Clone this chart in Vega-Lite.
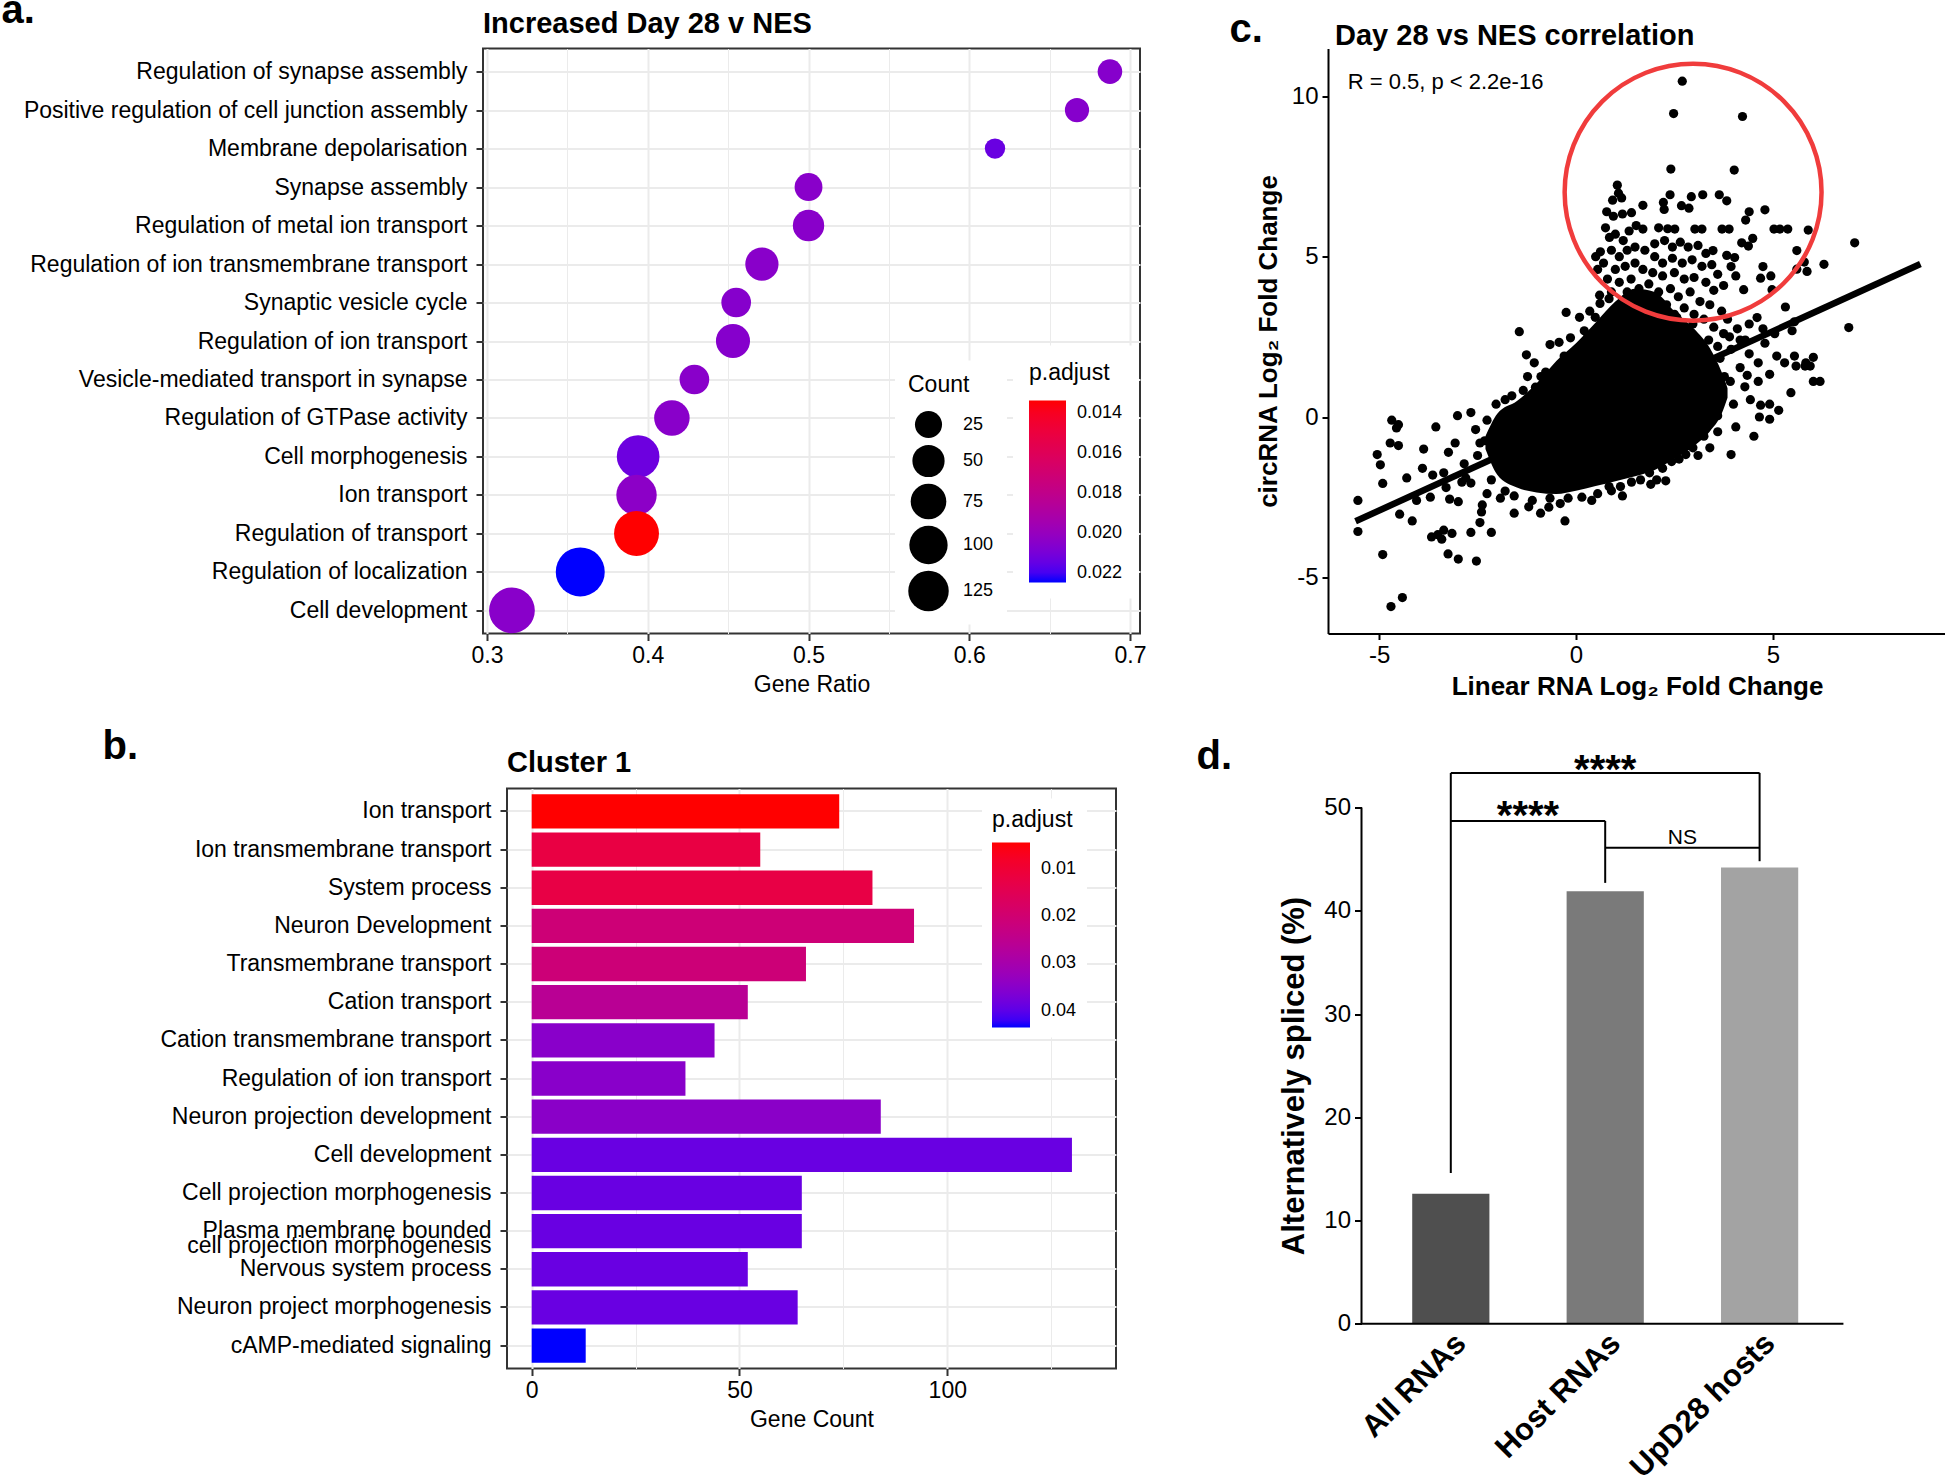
{
  "$schema": "https://vega.github.io/schema/vega-lite/v6.json",
  "padding": {"left": 0, "top": -10.5, "right": 0, "bottom": 0},
  "background": "white",
  "config": {
    "font": "Liberation Sans",
    "view": {"stroke": null},
    "axis": {"labelColor": "black", "titleColor": "black"},
    "legend": {"labelColor": "black", "titleColor": "black"},
    "title": {"color": "black"}
  },
  "datasets": {
    "go_a": [
      {"term": "Regulation of synapse assembly", "GeneRatio": 0.6875, "Count": 17, "padj": 0.0206},
      {"term": "Positive regulation of cell junction assembly", "GeneRatio": 0.667, "Count": 16, "padj": 0.0206},
      {"term": "Membrane depolarisation", "GeneRatio": 0.616, "Count": 8, "padj": 0.0214},
      {"term": "Synapse assembly", "GeneRatio": 0.5, "Count": 28, "padj": 0.0205},
      {"term": "Regulation of metal ion transport", "GeneRatio": 0.5, "Count": 45, "padj": 0.0205},
      {"term": "Regulation of ion transmembrane transport", "GeneRatio": 0.471, "Count": 57, "padj": 0.0205},
      {"term": "Synaptic vesicle cycle", "GeneRatio": 0.455, "Count": 36, "padj": 0.0206},
      {"term": "Regulation of ion transport", "GeneRatio": 0.453, "Count": 63, "padj": 0.0206},
      {"term": "Vesicle-mediated transport in synapse", "GeneRatio": 0.429, "Count": 36, "padj": 0.0205},
      {"term": "Regulation of GTPase activity", "GeneRatio": 0.415, "Count": 74, "padj": 0.0205},
      {"term": "Cell morphogenesis", "GeneRatio": 0.394, "Count": 154, "padj": 0.0213},
      {"term": "Ion transport", "GeneRatio": 0.393, "Count": 124, "padj": 0.0204},
      {"term": "Regulation of transport", "GeneRatio": 0.393, "Count": 189, "padj": 0.0134},
      {"term": "Regulation of localization", "GeneRatio": 0.358, "Count": 268, "padj": 0.0225},
      {"term": "Cell development", "GeneRatio": 0.3155, "Count": 204, "padj": 0.0205}
    ],
    "go_b": [
      {"term": "Ion transport", "GeneCount": 74, "padj": 0.0044},
      {"term": "Ion transmembrane transport", "GeneCount": 55, "padj": 0.0122},
      {"term": "System process", "GeneCount": 82, "padj": 0.0125},
      {"term": "Neuron Development", "GeneCount": 92, "padj": 0.0209},
      {"term": "Transmembrane transport", "GeneCount": 66, "padj": 0.021},
      {"term": "Cation transport", "GeneCount": 52, "padj": 0.026},
      {"term": "Cation transmembrane transport", "GeneCount": 44, "padj": 0.035},
      {"term": "Regulation of ion transport", "GeneCount": 37, "padj": 0.035},
      {"term": "Neuron projection development", "GeneCount": 84, "padj": 0.0348},
      {"term": "Cell development", "GeneCount": 130, "padj": 0.0389},
      {"term": "Cell projection morphogenesis", "GeneCount": 65, "padj": 0.0389},
      {"term": "Plasma membrane bounded\ncell projection morphogenesis", "GeneCount": 65, "padj": 0.0389},
      {"term": "Nervous system process", "GeneCount": 52, "padj": 0.0389},
      {"term": "Neuron project morphogenesis", "GeneCount": 64, "padj": 0.0389},
      {"term": "cAMP-mediated signaling", "GeneCount": 13, "padj": 0.0436}
    ],
    "scatter": [
      {"x": 2.70, "y": 10.47}, {"x": 2.48, "y": 9.46}, {"x": 4.23, "y": 9.37}, {"x": 2.41, "y": 7.73}, {"x": 4.02, "y": 7.70},
      {"x": 1.05, "y": 7.23}, {"x": 0.93, "y": 6.76}, {"x": 1.16, "y": 6.83}, {"x": 1.08, "y": 6.98}, {"x": 2.39, "y": 6.93},
      {"x": 2.93, "y": 6.87}, {"x": 3.22, "y": 6.93}, {"x": 3.64, "y": 6.93}, {"x": 3.83, "y": 6.74}, {"x": 1.70, "y": 6.60},
      {"x": 2.22, "y": 6.69}, {"x": 2.24, "y": 6.47}, {"x": 2.68, "y": 6.59}, {"x": 2.87, "y": 6.51}, {"x": 4.80, "y": 6.46},
      {"x": 4.40, "y": 6.40}, {"x": 4.31, "y": 6.14}, {"x": 0.78, "y": 6.40}, {"x": 0.95, "y": 6.26}, {"x": 1.18, "y": 6.33},
      {"x": 1.41, "y": 6.37}, {"x": 1.53, "y": 5.97}, {"x": 1.70, "y": 5.86}, {"x": 2.10, "y": 5.90}, {"x": 2.33, "y": 5.87},
      {"x": 2.51, "y": 5.86}, {"x": 3.02, "y": 5.86}, {"x": 3.20, "y": 5.86}, {"x": 3.71, "y": 5.86}, {"x": 3.89, "y": 5.86},
      {"x": 5.03, "y": 5.86}, {"x": 5.18, "y": 5.86}, {"x": 5.38, "y": 5.86}, {"x": 5.90, "y": 5.83}, {"x": 4.49, "y": 5.57},
      {"x": 4.21, "y": 5.43}, {"x": 4.38, "y": 5.33}, {"x": 7.08, "y": 5.43}, {"x": 6.30, "y": 4.76}, {"x": 5.61, "y": 5.19},
      {"x": 5.80, "y": 4.83}, {"x": 5.61, "y": 4.61}, {"x": 5.87, "y": 4.54}, {"x": 3.48, "y": 5.19}, {"x": 3.83, "y": 5.04},
      {"x": 4.03, "y": 4.97}, {"x": 3.94, "y": 4.69}, {"x": 4.06, "y": 4.40}, {"x": 4.75, "y": 4.69}, {"x": 4.95, "y": 4.40},
      {"x": 4.69, "y": 4.33}, {"x": 4.98, "y": 3.97}, {"x": 4.26, "y": 3.97},
      {"x": 0.75, "y": 5.9}, {"x": 0.85, "y": 5.6}, {"x": 1.0, "y": 5.7}, {"x": 1.2, "y": 5.5}, {"x": 1.35, "y": 5.8},
      {"x": 0.5, "y": 5.0}, {"x": 0.62, "y": 5.15}, {"x": 0.7, "y": 4.8}, {"x": 0.55, "y": 4.6}, {"x": 0.9, "y": 5.2},
      {"x": 1.1, "y": 5.0}, {"x": 1.3, "y": 5.2}, {"x": 1.5, "y": 5.3}, {"x": 1.75, "y": 5.2}, {"x": 2.0, "y": 5.4},
      {"x": 2.25, "y": 5.5}, {"x": 2.45, "y": 5.3}, {"x": 2.65, "y": 5.45}, {"x": 2.85, "y": 5.3}, {"x": 3.1, "y": 5.35},
      {"x": 3.3, "y": 5.1}, {"x": 2.0, "y": 5.0}, {"x": 2.2, "y": 4.8}, {"x": 2.45, "y": 4.95}, {"x": 2.7, "y": 4.8},
      {"x": 2.95, "y": 4.9}, {"x": 3.2, "y": 4.7}, {"x": 3.45, "y": 4.75}, {"x": 3.6, "y": 4.45}, {"x": 1.0, "y": 4.6},
      {"x": 1.25, "y": 4.7}, {"x": 1.5, "y": 4.8}, {"x": 1.7, "y": 4.6}, {"x": 1.95, "y": 4.5}, {"x": 2.2, "y": 4.4},
      {"x": 2.5, "y": 4.5}, {"x": 2.75, "y": 4.3}, {"x": 3.0, "y": 4.35}, {"x": 3.3, "y": 4.2}, {"x": 3.5, "y": 3.95},
      {"x": 3.75, "y": 4.1}, {"x": 0.8, "y": 4.3}, {"x": 1.1, "y": 4.2}, {"x": 1.4, "y": 4.3}, {"x": 1.6, "y": 4.0},
      {"x": 1.85, "y": 4.15}, {"x": 2.1, "y": 3.9}, {"x": 2.4, "y": 4.0}, {"x": 2.6, "y": 3.75}, {"x": 2.9, "y": 3.9},
      {"x": 3.15, "y": 3.6}, {"x": 3.4, "y": 3.5}, {"x": 3.7, "y": 3.3}, {"x": 0.6, "y": 3.8}, {"x": 0.9, "y": 3.9},
      {"x": 2.3, "y": 3.5}, {"x": 2.75, "y": 3.4}, {"x": 3.0, "y": 3.2}, {"x": 3.25, "y": 3.05}, {"x": 3.5, "y": 2.8},
      {"x": 3.85, "y": 3.05}, {"x": 4.1, "y": 2.75}, {"x": 4.4, "y": 2.9}, {"x": 4.6, "y": 3.1}, {"x": 3.9, "y": 2.5},
      {"x": 4.3, "y": 2.4}, {"x": 0.84, "y": 3.69}, {"x": 0.21, "y": 2.69}, {"x": 0.09, "y": 3.11}, {"x": 0.49, "y": 3.11},
      {"x": 0.61, "y": 3.54}, {"x": 0.35, "y": 3.3}, {"x": 1.3, "y": 3.9}, {"x": 1.9, "y": 3.6}, {"x": 2.5, "y": 3.2},
      {"x": 2.97, "y": 2.9}, {"x": 2.56, "y": 3.11},
      {"x": 5.32, "y": 3.43}, {"x": 5.55, "y": 2.97}, {"x": 5.49, "y": 2.69}, {"x": 6.93, "y": 2.79}, {"x": 5.55, "y": 1.90},
      {"x": 5.84, "y": 1.69}, {"x": 6.03, "y": 1.86}, {"x": 5.30, "y": 1.69}, {"x": 5.59, "y": 1.59}, {"x": 5.82, "y": 1.59},
      {"x": 5.95, "y": 1.59}, {"x": 6.03, "y": 1.11}, {"x": 6.20, "y": 1.11}, {"x": 5.46, "y": 0.76}, {"x": 4.92, "y": 1.33},
      {"x": 4.63, "y": 1.11}, {"x": 4.29, "y": 0.94}, {"x": 4.43, "y": 0.54}, {"x": 4.69, "y": 0.37}, {"x": 4.92, "y": 0.40},
      {"x": 5.15, "y": 0.21}, {"x": 4.66, "y": 0.0}, {"x": 4.92, "y": -0.07}, {"x": 4.52, "y": -0.6}, {"x": 3.94, "y": -1.17},
      {"x": 3.40, "y": -0.96}, {"x": 3.6, "y": -0.46}, {"x": 3.94, "y": 2.11}, {"x": 4.17, "y": 2.4}, {"x": 4.4, "y": 1.97},
      {"x": 4.63, "y": 1.69}, {"x": 4.17, "y": 1.54}, {"x": 3.92, "y": 1.11}, {"x": 4.0, "y": 0.4}, {"x": 4.06, "y": -0.31},
      {"x": 4.8, "y": 2.3}, {"x": 5.05, "y": 2.6}, {"x": 4.75, "y": 2.75}, {"x": 5.1, "y": 1.9}, {"x": 4.35, "y": 1.3},
      {"x": 3.75, "y": 2.6}, {"x": 3.6, "y": 2.2},
      {"x": -5.54, "y": -2.60}, {"x": -5.54, "y": -3.57}, {"x": -5.05, "y": -1.17}, {"x": -4.97, "y": -1.49}, {"x": -4.91, "y": -2.07},
      {"x": -4.68, "y": -0.10}, {"x": -4.51, "y": -0.24}, {"x": -4.56, "y": -0.34}, {"x": -4.72, "y": -0.81}, {"x": -4.51, "y": -0.89},
      {"x": -4.91, "y": -4.29}, {"x": -4.70, "y": -5.91}, {"x": -4.41, "y": -5.63}, {"x": -4.48, "y": -3.03}, {"x": -4.16, "y": -3.24},
      {"x": -4.05, "y": -2.60}, {"x": -3.87, "y": -1.00}, {"x": -3.56, "y": -0.31}, {"x": -3.64, "y": -1.81}, {"x": -3.36, "y": -1.74},
      {"x": -3.24, "y": -1.10}, {"x": -3.07, "y": -0.81}, {"x": -3.01, "y": 0.04}, {"x": -2.67, "y": 0.14}, {"x": -2.55, "y": -0.39},
      {"x": -2.44, "y": -0.81}, {"x": -3.67, "y": -3.74}, {"x": -3.51, "y": -3.67}, {"x": -3.41, "y": -3.81}, {"x": -3.36, "y": -3.53},
      {"x": -3.15, "y": -3.63}, {"x": -3.21, "y": -2.56}, {"x": -2.99, "y": -2.64}, {"x": -2.90, "y": -2.03}, {"x": -2.67, "y": -3.60},
      {"x": -2.44, "y": -3.29}, {"x": -2.15, "y": -3.60}, {"x": -3.25, "y": -4.27}, {"x": -2.99, "y": -4.43}, {"x": -2.53, "y": -4.49},
      {"x": -2.38, "y": -2.74}, {"x": -2.40, "y": -2.96}, {"x": -2.67, "y": -2.06}, {"x": -2.26, "y": -2.39}, {"x": -1.92, "y": -2.53},
      {"x": -1.57, "y": -3.00}, {"x": -1.80, "y": -2.31}, {"x": -1.44, "y": 2.66}, {"x": -1.26, "y": 1.94}, {"x": -0.25, "y": 3.26},
      {"x": -0.28, "y": -3.24}, {"x": -0.69, "y": -2.81}, {"x": -0.20, "y": -2.53}, {"x": 0.15, "y": -2.50}, {"x": 1.18, "y": -2.46},
      {"x": 1.13, "y": -2.17}, {"x": 1.64, "y": -1.96}, {"x": 2.05, "y": -1.96}, {"x": 2.28, "y": -1.99}, {"x": 2.43, "y": -1.39},
      {"x": 2.79, "y": -1.17}, {"x": -2.03, "y": 0.40}, {"x": -1.80, "y": 0.54}, {"x": -1.63, "y": 0.66}, {"x": -1.34, "y": 0.83},
      {"x": -1.03, "y": 0.93}, {"x": -0.89, "y": 1.26}, {"x": -0.77, "y": 1.40}, {"x": -0.66, "y": 2.26}, {"x": -0.43, "y": 2.33},
      {"x": -0.14, "y": 2.47}, {"x": -1.06, "y": 1.69}, {"x": -1.23, "y": 1.26}, {"x": -2.26, "y": -0.10}, {"x": -2.32, "y": -0.74},
      {"x": -2.84, "y": -1.46}, {"x": -2.15, "y": -1.96}, {"x": -1.57, "y": -2.46}, {"x": -1.11, "y": -2.60}, {"x": -0.66, "y": -2.53},
      {"x": 0.55, "y": -2.39}, {"x": 0.84, "y": -2.17}, {"x": 1.41, "y": -2.03}, {"x": 1.87, "y": -1.74}, {"x": 2.62, "y": -1.31},
      {"x": 2.97, "y": -0.96}, {"x": 3.25, "y": -0.60}, {"x": 3.60, "y": 0.04}, {"x": 3.71, "y": 0.69}, {"x": 3.77, "y": 1.26},
      {"x": 3.66, "y": 1.83}, {"x": 3.37, "y": 2.40}, {"x": -3.3, "y": -2.2}, {"x": -2.8, "y": -1.9}, {"x": -3.9, "y": -1.6},
      {"x": -4.3, "y": -1.9}, {"x": -3.7, "y": -2.5}, {"x": -2.5, "y": -1.2}, {"x": -1.9, "y": -0.9}, {"x": -1.5, "y": -0.2},
      {"x": -0.6, "y": 0.9}, {"x": -0.3, "y": 1.9}, {"x": 0.3, "y": 2.5}, {"x": -1.2, "y": -2.8}, {"x": -0.9, "y": -3.0},
      {"x": -0.4, "y": -2.7}, {"x": 0.4, "y": -2.6}, {"x": 0.9, "y": -2.3}, {"x": 1.9, "y": -2.1}, {"x": 2.2, "y": -1.6},
      {"x": 3.1, "y": -1.2}
    ],
    "blob": [
      {"bx": -2.3, "lo": -1.0, "hi": -0.6},
      {"bx": -2.0, "lo": -1.8, "hi": 0.1},
      {"bx": -1.5, "lo": -2.2, "hi": 0.5},
      {"bx": -1.0, "lo": -2.35, "hi": 1.05},
      {"bx": -0.5, "lo": -2.4, "hi": 1.75},
      {"bx": 0.0, "lo": -2.3, "hi": 2.3},
      {"bx": 0.5, "lo": -2.15, "hi": 2.95},
      {"bx": 1.0, "lo": -2.0, "hi": 3.6},
      {"bx": 1.5, "lo": -1.85, "hi": 4.0},
      {"bx": 2.0, "lo": -1.65, "hi": 3.9},
      {"bx": 2.5, "lo": -1.3, "hi": 3.3},
      {"bx": 3.0, "lo": -0.9, "hi": 2.75},
      {"bx": 3.4, "lo": -0.45, "hi": 2.15},
      {"bx": 3.7, "lo": 0.1, "hi": 1.4},
      {"bx": 3.85, "lo": 0.6, "hi": 0.9}
    ],
    "fit": [{"x": -5.6, "y": -3.25}, {"x": 8.75, "y": 4.77}],
    "ring": [{"x": 2.975, "y": 7.01}],
    "annot": [{"x": -5.8, "y": 10.44, "label": "R = 0.5, p < 2.2e-16"}],
    "bars": [
      {"group": "All RNAs", "value": 12.6},
      {"group": "Host RNAs", "value": 41.9},
      {"group": "UpD28 hosts", "value": 44.2}
    ],
    "axes_d": [
      {"p1": 0.4217, "p2": 0.4217, "y1": 0, "y2": 50},
      {"p1": 0.4217, "p2": 3.543, "y1": 0, "y2": 0}
    ],
    "brk_v": [
      {"p": 1, "y1": 14.6, "y2": 53.35},
      {"p": 2, "y1": 42.7, "y2": 48.7},
      {"p": 3, "y1": 44.8, "y2": 53.35}
    ],
    "brk_h": [
      {"p1": 1, "p2": 2, "yv": 48.7},
      {"p1": 1, "p2": 3, "yv": 53.35},
      {"p1": 2, "p2": 3, "yv": 46.1}
    ],
    "stars": [
      {"p": 1.5, "yv": 47.9, "label": "****"},
      {"p": 2.0, "yv": 52.4, "label": "****"}
    ],
    "ns": [{"p": 2.5, "yv": 46.5, "label": "NS"}]
  },
  "concat": [
    {
      "width": 657,
      "height": 585,
      "view": {"stroke": "#333333", "strokeWidth": 2},
      "title": {"text": "Increased Day 28 v NES", "anchor": "start", "frame": "group", "fontSize": 29, "fontWeight": "bold", "baseline": "alphabetic", "offset": -71.5},
      "data": {"name": "go_a"},
      "mark": {"type": "circle", "opacity": 1},
      "encoding": {
        "y": {
          "field": "term", "type": "nominal", "sort": null,
          "scale": {"type": "point", "padding": 0.6},
          "axis": {
            "title": "a.", "titleX": -482, "titleY": -26, "titleAngle": 0, "titleAlign": "left", "titleBaseline": "alphabetic",
            "titleFontSize": 40, "titleFontWeight": "bold",
            "labelFontSize": 23, "labelPadding": 9, "labelLimit": 700,
            "tickSize": 7, "tickWidth": 2, "tickColor": "#333333",
            "domain": false, "grid": true, "gridColor": "#EBEBEB", "gridWidth": 2
          }
        },
        "x": {
          "field": "GeneRatio", "type": "quantitative",
          "scale": {"domain": [0.2975, 0.7062], "nice": false, "zero": false},
          "axis": {
            "title": "Gene Ratio", "titleFontSize": 23, "titleFontWeight": "normal", "titlePadding": 6,
            "values": [0.3, 0.35, 0.4, 0.45, 0.5, 0.55, 0.6, 0.65, 0.7],
            "labelExpr": "abs(datum.value*10 - round(datum.value*10)) < 0.001 ? format(datum.value, '.1f') : ''",
            "labelFontSize": 23, "labelPadding": 4,
            "tickSize": 7, "tickWidth": 2, "tickColor": "#333333",
            "tickOpacity": {"condition": {"test": "abs(datum.value*10 - round(datum.value*10)) < 0.001", "value": 1}, "value": 0},
            "domain": false, "grid": true, "gridColor": "#EBEBEB",
            "gridWidth": {"condition": {"test": "abs(datum.value*10 - round(datum.value*10)) < 0.001", "value": 2}, "value": 1}
          }
        },
        "size": {
          "field": "Count", "type": "quantitative",
          "scale": {"type": "sqrt", "domain": [0, 270], "range": [0, 2410]},
          "legend": {
            "title": "Count", "orient": "none", "legendX": 412, "legendY": 312,
            "values": [25, 50, 75, 100, 125], "fillColor": "white", "padding": 13,
            "titleFontSize": 23, "titleFontWeight": "normal", "titlePadding": 14,
            "labelFontSize": 18, "labelOffset": 14, "rowPadding": 6,
            "symbolType": "circle", "symbolFillColor": "black", "symbolStrokeWidth": 0, "symbolOpacity": 1
          }
        },
        "color": {
          "field": "padj", "type": "quantitative",
          "scale": {"domain": [0.0225, 0.0134], "range": ["#0000FF", "#FF0000"], "interpolate": "lab", "nice": false, "zero": false},
          "legend": {
            "title": "p.adjust", "orient": "none", "legendX": 530, "legendY": 297, "direction": "vertical",
            "values": [0.014, 0.016, 0.018, 0.020, 0.022], "format": ".3f",
            "gradientLength": 182, "gradientThickness": 37, "gradientStrokeWidth": 0,
            "fillColor": "white", "padding": 16,
            "titleFontSize": 23, "titleFontWeight": "normal", "titlePadding": 16,
            "labelFontSize": 18, "labelOffset": 11
          }
        }
      }
    },
    {
      "width": 618,
      "height": 585,
      "title": {"text": "Day 28 vs NES correlation", "anchor": "start", "frame": "group", "fontSize": 29, "fontWeight": "bold", "baseline": "alphabetic", "offset": -64.6, "dx": 7},
      "layer": [
        {
          "data": {"name": "blob"},
          "mark": {"type": "area", "color": "black", "interpolate": "monotone", "opacity": 1},
          "encoding": {
            "x": {"field": "bx", "type": "quantitative", "scale": {"domain": [-6.3, 9.4], "nice": false, "zero": false}, "axis": null},
            "y": {"field": "lo", "type": "quantitative", "scale": {"domain": [-6.75, 11.49], "nice": false, "zero": false}, "axis": null},
            "y2": {"field": "hi"}
          }
        },
        {
          "data": {"name": "scatter"},
          "mark": {"type": "circle", "size": 85, "color": "black", "opacity": 1},
          "encoding": {
            "x": {
              "field": "x", "type": "quantitative",
              "scale": {"domain": [-6.3, 9.4], "nice": false, "zero": false},
              "axis": {
                "title": "Linear RNA Log₂ Fold Change", "titleFontSize": 26, "titleFontWeight": "bold", "titlePadding": 6,
                "values": [-5, 0, 5], "labelExpr": "'' + datum.value", "labelFontSize": 24, "labelPadding": 4,
                "grid": false, "domainColor": "black", "domainWidth": 2, "tickColor": "black", "tickWidth": 2, "tickSize": 6
              }
            },
            "y": {
              "field": "y", "type": "quantitative",
              "scale": {"domain": [-6.75, 11.49], "nice": false, "zero": false},
              "axis": {
                "title": "circRNA Log₂ Fold Change", "titleFontSize": 26, "titleFontWeight": "bold", "titlePadding": 10,
                "values": [-5, 0, 5, 10], "labelExpr": "'' + datum.value", "labelFontSize": 24, "labelPadding": 4,
                "grid": false, "domainColor": "black", "domainWidth": 2, "tickColor": "black", "tickWidth": 2, "tickSize": 6
              }
            }
          }
        },
        {
          "data": {"name": "fit"},
          "mark": {"type": "line", "color": "black", "strokeWidth": 6.5},
          "encoding": {
            "x": {"field": "x", "type": "quantitative", "scale": {"domain": [-6.3, 9.4], "nice": false, "zero": false}, "axis": null},
            "y": {"field": "y", "type": "quantitative", "scale": {"domain": [-6.75, 11.49], "nice": false, "zero": false}, "axis": null}
          }
        },
        {
          "data": {"name": "ring"},
          "mark": {"type": "point", "shape": "circle", "size": 66000, "filled": false, "stroke": "#F03C3C", "strokeWidth": 4.5, "opacity": 1},
          "encoding": {
            "x": {"field": "x", "type": "quantitative", "scale": {"domain": [-6.3, 9.4], "nice": false, "zero": false}, "axis": null},
            "y": {"field": "y", "type": "quantitative", "scale": {"domain": [-6.75, 11.49], "nice": false, "zero": false}, "axis": null}
          }
        },
        {
          "data": {"name": "annot"},
          "mark": {"type": "text", "align": "left", "baseline": "middle", "fontSize": 22, "color": "black"},
          "encoding": {
            "x": {
              "field": "x", "type": "quantitative", "scale": {"domain": [-6.3, 9.4], "nice": false, "zero": false},
              "axis": {
                "orient": "top", "domain": false, "ticks": false, "labels": false, "grid": false,
                "title": "c.", "titleX": -99, "titleY": -7, "titleAngle": 0, "titleAlign": "left", "titleBaseline": "alphabetic",
                "titleFontSize": 40, "titleFontWeight": "bold"
              }
            },
            "y": {"field": "y", "type": "quantitative", "scale": {"domain": [-6.75, 11.49], "nice": false, "zero": false}, "axis": null},
            "text": {"field": "label"}
          }
        }
      ],
      "resolve": {"axis": {"x": "independent", "y": "independent"}}
    },
    {
      "width": 609,
      "height": 580,
      "view": {"stroke": "#333333", "strokeWidth": 2},
      "title": {"text": "Cluster 1", "anchor": "start", "frame": "group", "fontSize": 29, "fontWeight": "bold", "baseline": "alphabetic", "offset": -75},
      "data": {"name": "go_b"},
      "mark": {"type": "bar"},
      "encoding": {
        "y": {
          "field": "term", "type": "nominal", "sort": null,
          "scale": {"paddingInner": 0.1, "paddingOuter": 0.15},
          "axis": {
            "title": "b.", "titleX": -405, "titleY": -30.5, "titleAngle": 0, "titleAlign": "left", "titleBaseline": "alphabetic",
            "titleFontSize": 40, "titleFontWeight": "bold",
            "labelExpr": "split(datum.label, '\\n')", "labelLineHeight": 15,
            "labelFontSize": 23, "labelPadding": 9, "labelLimit": 700,
            "tickSize": 7, "tickWidth": 2, "tickColor": "#333333",
            "domain": false, "grid": true, "gridColor": "#EBEBEB", "gridWidth": 2
          }
        },
        "x": {
          "field": "GeneCount", "type": "quantitative",
          "scale": {"domain": [-5.94, 140.6], "nice": false, "zero": false},
          "axis": {
            "title": "Gene Count", "titleFontSize": 23, "titleFontWeight": "normal", "titlePadding": 6,
            "values": [0, 25, 50, 75, 100, 125],
            "labelExpr": "datum.value % 50 === 0 ? datum.label : ''",
            "labelFontSize": 23, "labelPadding": 4,
            "tickSize": 7, "tickWidth": 2, "tickColor": "#333333",
            "tickOpacity": {"condition": {"test": "datum.value % 50 === 0", "value": 1}, "value": 0},
            "domain": false, "grid": true, "gridColor": "#EBEBEB",
            "gridWidth": {"condition": {"test": "datum.value % 50 === 0", "value": 2}, "value": 1}
          }
        },
        "x2": {"datum": 0},
        "color": {
          "field": "padj", "type": "quantitative",
          "scale": {"domain": [0.0436, 0.0044], "range": ["#0000FF", "#FF0000"], "interpolate": "lab", "nice": false, "zero": false},
          "legend": {
            "title": "p.adjust", "orient": "none", "legendX": 475, "legendY": 10, "direction": "vertical",
            "values": [0.01, 0.02, 0.03, 0.04], "format": ".2f",
            "gradientLength": 185, "gradientThickness": 38, "gradientStrokeWidth": 0,
            "fillColor": "white", "padding": 10,
            "titleFontSize": 23, "titleFontWeight": "normal", "titlePadding": 11,
            "labelFontSize": 18, "labelOffset": 11
          }
        }
      }
    },
    {
      "width": 618,
      "height": 535.3,
      "layer": [
        {
          "data": {"name": "bars"},
          "mark": {"type": "bar"},
          "encoding": {
            "x": {
              "field": "group", "type": "nominal", "sort": null,
              "scale": {"paddingInner": 0.5, "paddingOuter": 0.7513, "align": 0.363},
              "axis": {
                "title": "d.", "titleX": -132, "titleY": -555.3, "titleAngle": 0, "titleAlign": "left", "titleBaseline": "alphabetic",
                "titleFontSize": 40, "titleFontWeight": "bold",
                "labelAngle": -45, "labelFontSize": 31, "labelFontWeight": "bold", "labelPadding": 4, "labelLimit": 400,
                "ticks": false, "domain": false, "grid": false
              }
            },
            "y": {
              "field": "value", "type": "quantitative",
              "scale": {"domain": [0, 51.84], "nice": false, "zero": false},
              "axis": {
                "title": "Alternatively spliced (%)", "titleFontSize": 31, "titleFontWeight": "bold",
                "titleX": -67.5, "titleY": 287, "titleAngle": -90, "titleAlign": "center", "titleBaseline": "middle",
                "offset": -33.5,
                "values": [0, 10, 20, 30, 40, 50], "labelFontSize": 24, "labelPadding": 4,
                "grid": false, "domain": false, "tickColor": "black", "tickWidth": 2, "tickSize": 7
              }
            },
            "color": {
              "field": "group", "type": "nominal", "sort": null,
              "scale": {"domain": ["All RNAs", "Host RNAs", "UpD28 hosts"], "range": ["#4F4F4F", "#7A7A7A", "#A3A3A3"]},
              "legend": null
            }
          }
        },
        {
          "data": {"name": "axes_d"},
          "mark": {"type": "rule", "color": "black", "strokeWidth": 2},
          "encoding": {
            "x": {"field": "p1", "type": "quantitative", "scale": {"domain": [0.2047, 4.2073], "nice": false, "zero": false}, "axis": null},
            "x2": {"field": "p2"},
            "y": {"field": "y1", "type": "quantitative", "scale": {"domain": [0, 51.84], "nice": false, "zero": false}, "axis": null},
            "y2": {"field": "y2"}
          }
        },
        {
          "data": {"name": "brk_v"},
          "mark": {"type": "rule", "color": "black", "strokeWidth": 2},
          "encoding": {
            "x": {"field": "p", "type": "quantitative", "scale": {"domain": [0.2047, 4.2073], "nice": false, "zero": false}, "axis": null},
            "y": {"field": "y1", "type": "quantitative", "scale": {"domain": [0, 51.84], "nice": false, "zero": false}, "axis": null},
            "y2": {"field": "y2"}
          }
        },
        {
          "data": {"name": "brk_h"},
          "mark": {"type": "rule", "color": "black", "strokeWidth": 2},
          "encoding": {
            "x": {"field": "p1", "type": "quantitative", "scale": {"domain": [0.2047, 4.2073], "nice": false, "zero": false}, "axis": null},
            "x2": {"field": "p2"},
            "y": {"field": "yv", "type": "quantitative", "scale": {"domain": [0, 51.84], "nice": false, "zero": false}, "axis": null}
          }
        },
        {
          "data": {"name": "stars"},
          "mark": {"type": "text", "fontSize": 40, "fontWeight": "bold", "baseline": "alphabetic", "align": "center", "color": "black"},
          "encoding": {
            "x": {"field": "p", "type": "quantitative", "scale": {"domain": [0.2047, 4.2073], "nice": false, "zero": false}, "axis": null},
            "y": {"field": "yv", "type": "quantitative", "scale": {"domain": [0, 51.84], "nice": false, "zero": false}, "axis": null},
            "text": {"field": "label"}
          }
        },
        {
          "data": {"name": "ns"},
          "mark": {"type": "text", "fontSize": 21, "baseline": "alphabetic", "align": "center", "color": "black"},
          "encoding": {
            "x": {"field": "p", "type": "quantitative", "scale": {"domain": [0.2047, 4.2073], "nice": false, "zero": false}, "axis": null},
            "y": {"field": "yv", "type": "quantitative", "scale": {"domain": [0, 51.84], "nice": false, "zero": false}, "axis": null},
            "text": {"field": "label"}
          }
        }
      ],
      "resolve": {"scale": {"x": "independent"}, "axis": {"x": "independent", "y": "independent"}}
    }
  ],
  "columns": 2,
  "spacing": {"row": 155, "column": 188},
  "bounds": "flush",
  "align": "all",
  "center": {"column": true, "row": false},
  "resolve": {"scale": {"color": "independent", "size": "independent"}, "legend": {"color": "independent", "size": "independent"}}
}
